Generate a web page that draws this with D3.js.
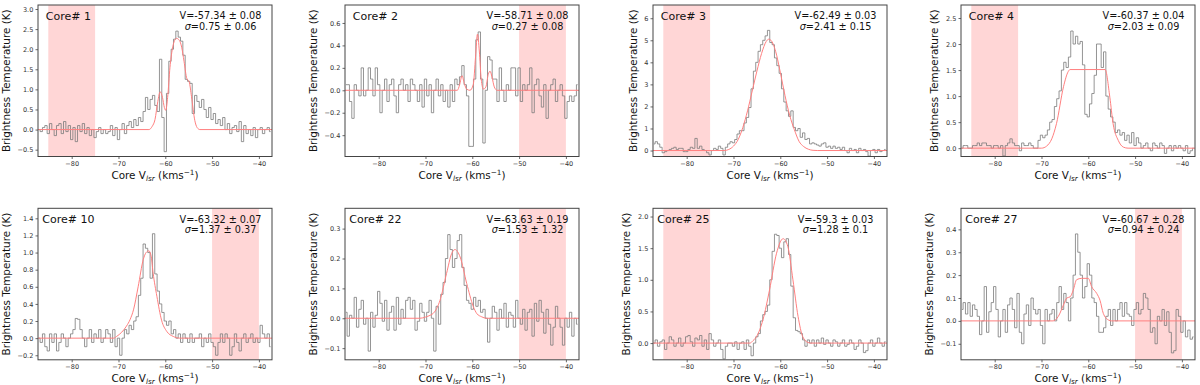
<!DOCTYPE html>
<html>
<head>
<meta charset="utf-8">
<script src="https://cdn.jsdelivr.net/npm/d3@7"></script>
<style>
  body { margin: 0; background: #fff; }
  svg { display: block; font-family: "DejaVu Sans", sans-serif; }
</style>
</head>
<body>
<div id="chart"></div>
<script>
// channel grid of the spectra (km/s)
const vStart = -87, vStep = 0.5;

// brightness temperature per channel (-87 ... -37.5)
const core1 = [
  0.0, -0.05, 0.05, 0.1, -0.1, 0.15, 0.0, -0.15, 0.1, 0.15,
  -0.1, 0.2, -0.05, 0.1, -0.25, 0.05, -0.3, 0.1, -0.05, 0.15,
  -0.1, 0.05, -0.15, 0.0, -0.2, -0.05, 0.05, -0.1, 0.0, -0.1,
  -0.05, 0.1, -0.15, 0.05, -0.25, 0.0, 0.15, -0.1, 0.1, 0.2,
  0.05, 0.25, 0.1, 0.3, 0.2, 0.45, 0.8, 0.5, 0.75, 0.85,
  0.6, 0.45, 1.75, 0.3, -0.55, 0.9, 1.7, 2.0, 2.25, 2.45,
  2.3, 2.2, 1.85, 1.25, 1.2, 1.15, 0.4, 0.85, 0.7, 0.55,
  0.75, 0.5, 0.3, 0.55, 0.25, 0.4, 0.15, 0.25, 0.1, 0.3,
  0.0, 0.15, -0.1, 0.05, 0.1, -0.05, 0.2, -0.3, 0.1, -0.1,
  0.0, -0.15, 0.05, -0.2, 0.0, 0.05, -0.1, 0.0, 0.05, -0.05
];
const core2 = [
  0.05, 0.05, -0.1, -0.25, 0.05, 0.0, -0.05, 0.2, -0.05, 0.0,
  0.2, 0.1, -0.05, 0.2, 0.05, -0.2, 0.0, 0.1, -0.1, 0.05,
  0.1, -0.05, -0.2, 0.05, 0.1, 0.0, 0.05, -0.1, 0.1, 0.05,
  0.0, -0.1, 0.05, -0.15, 0.1, -0.05, 0.05, -0.2, 0.0, 0.1,
  -0.05, 0.05, -0.1, 0.0, -0.15, 0.05, -0.1, 0.1, 0.05, 0.12,
  0.22, 0.05, -0.05, -0.5, -0.5, 0.1, 0.45, 0.52, 0.1, -0.47,
  0.0, 0.3, 0.27, 0.1, 0.1, -0.1, 0.2, 0.0, -0.1, 0.05,
  0.0, 0.2, 0.2, -0.05, 0.2, -0.1, 0.05, 0.0, 0.05, 0.2,
  -0.2, 0.05, 0.1, -0.05, -0.15, 0.05, -0.25, 0.0, 0.05, 0.1,
  -0.1, 0.0, 0.05, -0.05, -0.25, -0.1, -0.05, -0.1, -0.05, 0.05
];
const core3 = [
  0.3, 0.4, 0.3, 0.15, -0.1, -0.05, 0.0, 0.05, 0.1, 0.15,
  0.05, 0.1, 0.1, -0.05, -0.05, 0.05, 0.15, 0.1, 0.55, 0.1,
  0.2, 0.05, 0.0, -0.1, -0.2, 0.0, 0.1, 0.05, 0.2, 0.1,
  -0.2, 0.15, 0.3, 0.4, 0.35, 0.5, 0.75, 0.9, 0.9, 1.25,
  1.5, 1.95, 2.8, 3.6, 4.0, 4.5, 4.8, 5.0, 5.2, 5.45,
  4.9, 4.8, 4.2, 3.85, 3.5, 2.8, 2.2, 1.8, 1.55, 1.8,
  1.05, 0.9, 1.0, 0.6, 0.8, 0.5, 0.55, 0.3, 0.35, 0.3,
  0.25, 0.2, 0.3, 0.35, 0.15, 0.2, 0.1, 0.2, 0.1, 0.15,
  0.05, 0.15, 0.0, -0.1, 0.1, 0.0, 0.05, -0.1, 0.1, 0.0,
  0.05, -0.05, -0.25, 0.0, 0.05, -0.1, 0.05, -0.05, 0.0, 0.05
];
const core4 = [
  0.0, 0.05, 0.05, 0.0, 0.0, 0.05, 0.05, 0.1, 0.05, 0.1,
  0.1, 0.05, 0.05, 0.0, 0.05, 0.05, 0.0, 0.05, -0.15, 0.05,
  0.1, 0.18, 0.1, 0.05, 0.05, -0.05, 0.1, 0.05, 0.05, 0.1,
  0.05, 0.0, 0.0, 0.15, 0.25, 0.2, 0.25, 0.35, 0.5, 0.55,
  0.8, 0.95, 1.1, 1.5, 1.65, 1.55, 1.75, 2.25, 2.0, 2.15,
  2.0, 2.05, 1.6, 0.65, 0.6, 0.85, 1.05, 1.4, 2.0, 2.0,
  1.55, 1.85, 1.0, 0.75, 0.6, 0.5, 0.3, 0.35, 0.25, 0.3,
  0.15, 0.25, 0.1, 0.3, 0.05, 0.2, 0.1, 0.0, 0.05, 0.1,
  0.0, -0.05, 0.1, 0.05, 0.0, 0.1, 0.05, -0.1, 0.0, 0.05,
  -0.05, 0.05, 0.0, 0.05, 0.0, -0.05, 0.05, -0.1, -0.05, 0.0
];
const core10 = [
  0.0, -0.05, 0.05, -0.1, -0.15, 0.05, -0.05, 0.05, -0.15, -0.05,
  0.05, 0.0, -0.1, 0.0, 0.05, 0.1, 0.23, 0.22, 0.1, 0.0,
  -0.1, 0.0, 0.1, -0.05, 0.05, 0.0, 0.1, -0.05, 0.0, 0.1,
  0.05, -0.05, 0.1, -0.1, 0.0, -0.2, 0.0, 0.1, 0.05, 0.15,
  0.1, 0.2, 0.25, 0.5, 0.7, 1.1, 1.05, 1.0, 0.7, 1.22,
  0.75, 0.55, 0.4, 0.3, 0.2, 0.15, 0.2, 0.05, 0.1, 0.0,
  0.05, -0.05, 0.05, 0.0, -0.05, 0.05, -0.05, 0.0, 0.0, 0.05,
  -0.1, 0.0, -0.05, 0.05, -0.05, -0.1, -0.2, -0.05, 0.05, -0.05,
  0.05, 0.0, -0.2, -0.1, 0.05, -0.05, -0.15, 0.0, 0.05, -0.05,
  0.0, 0.05, -0.05, 0.0, -0.05, 0.15, 0.05, 0.0, 0.05, -0.1
];
const core22 = [
  0.02, -0.06, 0.01, 0.0, 0.07, -0.03, 0.03, 0.06, -0.02, 0.0,
  -0.11, 0.02, -0.03, 0.01, 0.09, 0.05, -0.01, 0.06, -0.04, 0.02,
  0.04, -0.04, 0.07, -0.02, 0.03, 0.0, 0.06, 0.07, 0.03, 0.06,
  -0.04, -0.01, 0.05, 0.02, -0.01, 0.02, 0.06, 0.0, -0.11, 0.04,
  -0.02, 0.08, 0.12, 0.2, 0.28, 0.23, 0.17, 0.2, 0.26, 0.28,
  0.17, 0.11, 0.06, 0.05, 0.03, 0.07, 0.04, 0.06, 0.02, 0.03,
  0.0, -0.08, 0.0, 0.04, 0.02, -0.04, 0.03, 0.0, 0.05, -0.03,
  0.02, 0.01, -0.03, 0.06, 0.0, -0.02, 0.03, -0.04, 0.02, 0.03,
  -0.06, 0.05, -0.01, 0.06, 0.02, -0.05, 0.03, -0.02, -0.09, -0.03,
  0.04, 0.0, -0.03, -0.09, 0.0, -0.03, 0.02, -0.06, 0.0, -0.02
];
const core25 = [
  0.0, 0.05, -0.05, 0.02, 0.05, -0.1, 0.0, 0.1, 0.05, -0.05,
  0.0, 0.08, -0.05, 0.0, 0.1, 0.12, 0.02, -0.05, 0.08, 0.05,
  0.12, -0.05, 0.05, -0.1, 0.15, 0.05, -0.05, 0.0, 0.05, -0.1,
  -0.25, -0.05, 0.0, 0.0, -0.05, 0.02, -0.1, 0.0, 0.02, -0.1,
  0.05, -0.05, -0.2, 0.0, 0.1, 0.15, 0.35, 0.45, 0.5, 0.6,
  1.0, 1.45, 1.72, 1.7, 1.5, 1.35, 1.6, 1.65, 1.4, 0.9,
  0.4, 0.2, 0.18, 0.15, 0.05, -0.05, 0.05, 0.0, 0.05, -0.05,
  0.05, 0.0, 0.08, -0.02, 0.05, 0.0, -0.05, 0.05, 0.02, -0.05,
  0.0, 0.05, -0.05, -0.02, 0.05, 0.0, -0.1, -0.05, 0.05, 0.0,
  -0.15, -0.12, 0.0, 0.05, -0.05, 0.0, 0.08, 0.0, -0.05, 0.02
];
const core27 = [
  0.05, 0.08, 0.03, 0.08, 0.02, 0.07, 0.05, 0.02, -0.06, 0.0,
  0.15, -0.05, 0.04, 0.08, 0.15, 0.05, -0.07, 0.0, 0.05, -0.05,
  0.07, 0.1, 0.05, -0.03, 0.12, -0.05, -0.1, 0.03, 0.07, -0.02,
  0.1, 0.05, 0.03, 0.05, -0.02, -0.1, 0.05, 0.0, 0.03, 0.05,
  0.0, 0.08, 0.15, 0.05, 0.12, 0.08, 0.0, 0.1, 0.2, 0.38,
  0.3, 0.2, 0.1, 0.15, 0.25, 0.2, 0.1, 0.08, 0.02, -0.05,
  -0.05, -0.03, 0.02, 0.05, -0.02, 0.05, 0.0, 0.05, 0.08, 0.02,
  0.08, 0.03, 0.02, -0.02, 0.05, 0.08, 0.03, 0.05, 0.12, 0.1,
  0.05, -0.05, -0.03, -0.1, 0.02, 0.0, 0.05, -0.02, 0.04, -0.05,
  -0.14, -0.13, 0.05, 0.02, -0.05, 0.0, -0.07, -0.04, -0.08, -0.07
];

// fitted profiles [velocity, T]
const fit1 = [[-87.2,0],[-63.5,0],[-62.8,0.08],[-62.2,0.25],[-61.6,0.7],[-61.1,0.94],[-60.6,0.8],[-60.2,0.55],[-59.9,0.48],[-59.5,0.8],[-59,1.55],[-58.5,2.0],[-58,2.22],[-57.6,2.27],[-57,2.22],[-56.5,2.05],[-56,1.7],[-55.4,1.27],[-54.9,1.19],[-54.4,0.82],[-53.7,0.23],[-53.2,0.05],[-52.6,0],[-37.2,0]];
const fit2 = [[-87.2,0],[-63.2,0],[-62.7,0.05],[-62.2,0.13],[-61.7,0.06],[-61.2,0.01],[-60.5,0],[-59.8,0.05],[-59.3,0.3],[-58.9,0.5],[-58.5,0.35],[-58.1,0.1],[-57.6,0.01],[-57.1,0.03],[-56.6,0.14],[-56.2,0.17],[-55.8,0.12],[-55.3,0.03],[-54.7,0],[-37.2,0]];
const fit3 = [[-87.2,0],[-72,0],[-71,0.05],[-70,0.2],[-69,0.5],[-68,1.05],[-67,1.8],[-66,2.7],[-65,3.6],[-64,4.4],[-63,4.95],[-62.5,5.05],[-62,5.0],[-61,4.5],[-60,3.55],[-59,2.5],[-58,1.6],[-57,0.95],[-56,0.42],[-55,0.18],[-54,0.06],[-53,0.01],[-52,0],[-37.2,0]];
const fit4 = [[-87.2,0],[-70,0],[-68.9,0.04],[-67.8,0.18],[-66.8,0.47],[-65.3,1.18],[-64.3,1.47],[-63.9,1.51],[-56.4,1.51],[-55.4,0.98],[-54.7,0.47],[-53.6,0.15],[-52.5,0.02],[-51.5,0],[-37.2,0]];
const fit10 = [[-87.2,0],[-71,0],[-70.4,0.02],[-69.3,0.07],[-68.3,0.14],[-67.5,0.22],[-66.8,0.33],[-65.8,0.6],[-64.7,0.92],[-64.1,1.0],[-63.5,1.02],[-63,0.95],[-62.6,0.76],[-61.8,0.49],[-60.8,0.21],[-59.7,0.08],[-58.3,0.02],[-57,0],[-37.2,0]];
const fit22 = [[-87.2,0],[-71.2,0],[-70,0.004],[-69,0.01],[-68.3,0.017],[-66.9,0.06],[-65.5,0.15],[-64.4,0.217],[-63.7,0.23],[-62.6,0.205],[-61.2,0.117],[-59.8,0.04],[-59,0.015],[-58,0.005],[-57,0],[-37.2,0]];
const fit25 = [[-87.2,0],[-66.5,0],[-65.8,0.04],[-65.1,0.1],[-63.7,0.37],[-62.3,0.84],[-60.8,1.42],[-59.4,1.65],[-58.4,1.53],[-57.3,1.0],[-56.2,0.42],[-55.2,0.1],[-54.1,0.01],[-53.5,0],[-37.2,0]];
const fit27 = [[-87.2,0],[-67.5,0],[-66.4,0.02],[-65.3,0.07],[-64.6,0.1],[-63.9,0.105],[-63.2,0.135],[-62.5,0.18],[-61.4,0.186],[-60,0.186],[-59.3,0.15],[-58.2,0.12],[-57.5,0.09],[-56.8,0.033],[-55.7,0.004],[-55,0],[-37.2,0]];

const coreLabels = ["Core# 1", "Core# 2", "Core# 3", "Core# 4", "Core# 10", "Core# 22", "Core# 25", "Core# 27"];
const vLabels = ["V=-57.34 ± 0.08", "V=-58.71 ± 0.08", "V=-62.49 ± 0.03", "V=-60.37 ± 0.04",
                 "V=-63.32 ± 0.07", "V=-63.63 ± 0.19", "V=-59.3 ± 0.03", "V=-60.67 ± 0.28"];
const sigmaLabels = ["=0.75 ± 0.06", "=0.27 ± 0.08", "=2.41 ± 0.15", "=2.03 ± 0.09",
                     "=1.37 ± 0.37", "=1.53 ± 1.32", "=1.28 ± 0.1", "=0.94 ± 0.24"];
const shadeRanges = [[-85, -75], [-50, -40], [-85, -75], [-85, -75],
                     [-50, -40], [-50, -40], [-85, -75], [-50, -40]];
const xTicks = [-80, -70, -60, -50, -40];
const yTicks = [
  [-0.5, 0, 0.5, 1, 1.5, 2, 2.5, 3],
  [-0.4, -0.2, 0, 0.2, 0.4, 0.6],
  [0, 1, 2, 3, 4, 5, 6],
  [0, 0.5, 1, 1.5, 2, 2.5],
  [-0.2, 0, 0.2, 0.4, 0.6, 0.8, 1, 1.2, 1.4],
  [-0.1, 0, 0.1, 0.2, 0.3],
  [0, 0.5, 1, 1.5, 2],
  [-0.1, 0, 0.1, 0.2, 0.3, 0.4]
];

const spectra = [core1, core2, core3, core4, core10, core22, core25, core27];
const fits = [fit1, fit2, fit3, fit4, fit10, fit22, fit25, fit27];

// layout
const width = 1200, height = 385;
const colX = [38, 345, 653, 961];
const rowY = [5, 208.3];
const boxW = 234, boxH = 151.5;
const xDomain = [-87.2, -37.2];
const yDomains = [[-0.67, 3.1], [-0.59, 0.76], [-0.27, 6.6], [-0.16, 2.75],
                  [-0.253, 1.517], [-0.139, 0.368], [-0.264, 2.13], [-0.17, 0.492]];

const svg = d3.select("#chart").append("svg")
  .attr("width", width)
  .attr("height", height);

const axisColor = "#444";

spectra.forEach((spec, k) => {
  const left = colX[k % 4], top = rowY[Math.floor(k / 4)];
  const g = svg.append("g").attr("transform", `translate(${left},${top})`);

  const x = d3.scaleLinear().domain(xDomain).range([0, boxW]);
  const y = d3.scaleLinear().domain(yDomains[k]).range([boxH, 0]);

  const clipId = `clip${k}`;
  g.append("clipPath").attr("id", clipId)
    .append("rect").attr("width", boxW).attr("height", boxH);

  const plot = g.append("g").attr("clip-path", `url(#${clipId})`);

  // shaded window
  const s = shadeRanges[k];
  plot.append("rect")
    .attr("x", x(s[0]))
    .attr("y", 0)
    .attr("width", x(s[1]) - x(s[0]))
    .attr("height", boxH)
    .attr("fill", "#ffd6d6");

  // spectrum
  const pts = spec.map((t, i) => [vStart + i * vStep, t]);
  plot.append("path")
    .datum(pts)
    .attr("fill", "none")
    .attr("stroke", "#7a7a7a")
    .attr("stroke-width", 0.8)
    .attr("d", d3.line().x(d => x(d[0])).y(d => y(d[1])).curve(d3.curveStep));

  // fit
  plot.append("path")
    .datum(fits[k])
    .attr("fill", "none")
    .attr("stroke", "#ff7f7f")
    .attr("stroke-width", 1)
    .attr("d", d3.line().x(d => x(d[0])).y(d => y(d[1])).curve(d3.curveMonotoneX));

  // axes
  const xAxis = g.append("g")
    .attr("transform", `translate(0,${boxH})`)
    .call(d3.axisBottom(x).tickValues(xTicks).tickSize(2.5).tickPadding(2.5)
      .tickFormat(d3.format("d")));
  const yFmt = k === 2 ? d3.format("d") : d3.format(".1f");
  const yAxis = g.append("g")
    .call(d3.axisLeft(y).tickValues(yTicks[k]).tickSize(2.5).tickPadding(2.2)
      .tickFormat(yFmt));

  [xAxis, yAxis].forEach(a => {
    a.select(".domain").remove();
    a.attr("font-family", "DejaVu Sans").attr("font-size", 6.5);
    a.selectAll("line").attr("stroke", axisColor).attr("stroke-width", 0.8);
    a.selectAll("text").attr("fill", "#333");
  });

  // frame
  g.append("rect")
    .attr("width", boxW).attr("height", boxH)
    .attr("fill", "none")
    .attr("stroke", axisColor)
    .attr("stroke-width", 1);

  // y label
  const yb = yAxis.node().getBBox();
  g.append("text")
    .attr("transform", `translate(${yb.x - 7.5},${boxH / 2}) rotate(-90)`)
    .attr("text-anchor", "middle")
    .attr("font-size", 10.4)
    .attr("fill", "#111")
    .text("Brightness Temperature (K)");

  // x label
  const xl = g.append("text")
    .attr("x", boxW / 2)
    .attr("y", boxH + 22.5)
    .attr("text-anchor", "middle")
    .attr("font-size", 10.4)
    .attr("fill", "#111");
  xl.append("tspan").text("Core V");
  xl.append("tspan").attr("font-size", 7.3).attr("font-style", "italic").attr("dy", 1.8).text("lsr");
  xl.append("tspan").attr("dy", -1.8).text(" (kms");
  xl.append("tspan").attr("font-size", 7.3).attr("dy", -4).text("−1");
  xl.append("tspan").attr("dy", 4).text(")");

  // core name
  g.append("text")
    .attr("x", boxW * 0.13)
    .attr("y", 15)
    .attr("text-anchor", "middle")
    .attr("font-size", 11)
    .attr("fill", "#111")
    .text(coreLabels[k]);

  // fit parameters
  g.append("text")
    .attr("x", boxW * 0.78)
    .attr("y", 14.3)
    .attr("text-anchor", "middle")
    .attr("font-size", 9.7)
    .attr("fill", "#111")
    .text(vLabels[k]);
  const st = g.append("text")
    .attr("x", boxW * 0.78)
    .attr("y", 25)
    .attr("text-anchor", "middle")
    .attr("font-size", 9.7)
    .attr("fill", "#111");
  st.append("tspan").attr("font-style", "italic").text("σ");
  st.append("tspan").text(sigmaLabels[k]);
});
</script>
</body>
</html>
